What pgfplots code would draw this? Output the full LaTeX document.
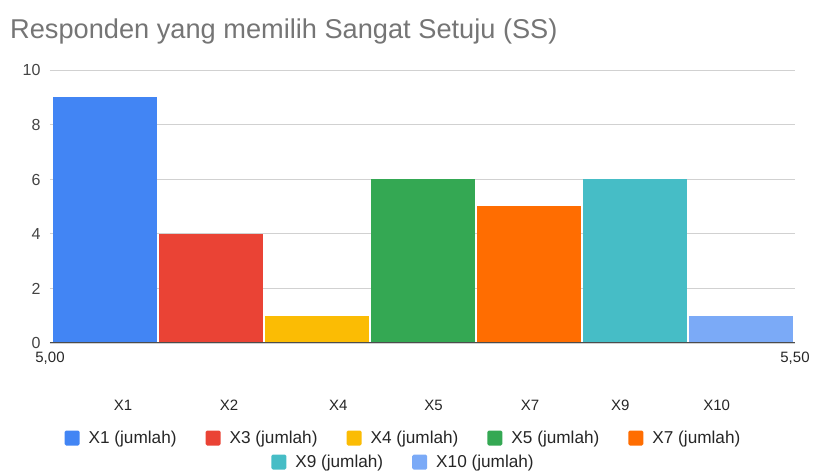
\documentclass[border=0pt]{standalone}
\usepackage{pgfplots}
\pgfplotsset{compat=1.18}
\usepackage{fontspec}
\setmainfont{Liberation Sans}
\definecolor{c1}{HTML}{4285F4}
\definecolor{c3}{HTML}{EA4335}
\definecolor{c4}{HTML}{FBBC04}
\definecolor{c5}{HTML}{34A853}
\definecolor{c7}{HTML}{FF6D01}
\definecolor{c9}{HTML}{46BDC6}
\definecolor{c10}{HTML}{7BAAF7}
\definecolor{titlegray}{HTML}{757575}
\definecolor{txt}{HTML}{444444}
\pgfplotsset{
  legsty/.style={
    legend image code/.code={\fill[##1, draw=none, rounded corners=1.5pt] (0pt,-7.5pt) rectangle (15pt,7.5pt);},
  },
}
\begin{document}
\begin{tikzpicture}[x=1pt,y=1pt]
\path[use as bounding box] (0,0) rectangle (814,476);
\node[anchor=base west, text=titlegray, font=\fontsize{27.2}{32}\selectfont, inner sep=0] at (10,437) {Responden yang memilih Sangat Setuju (SS)};
\begin{axis}[
  at={(50pt,133pt)}, anchor=south west, scale only axis,
  width=745pt, height=273pt,
  xmin=-0.519, xmax=6.509, ymin=0, ymax=10,
  ytick={0,2,4,6,8,10},
  ymajorgrids, grid style={draw=black!18, line width=0.8pt},
  axis x line*=bottom, axis y line*=left,
  x axis line style={draw=none}, y axis line style={draw=none},
  major tick length=0pt,
  /pgf/number format/assume math mode=true,
  tick label style={text=txt, font=\fontsize{15}{18}\selectfont, text height=11pt, text depth=3pt},
  y tick label style={font=\fontsize{16}{19}\selectfont, xshift=-6pt, yshift=-2pt},
  xtick={0.17,1.17,2.20,3.10,4.01,4.86,5.77},
  xticklabels={X1,X2,X4,X5,X7,X9,X10},
  x tick label style={yshift=-53pt, text=black!85},
  extra x ticks={-0.519,6.509},
  extra x tick labels={{5,00},{5,50}},
  extra x tick style={grid=none, tick label style={yshift=48pt, text=txt}},
  legsty,
  legend style={at={(0.4745,-0.348)}, anchor=center, draw=none, fill=none,
    legend columns=5, font=\fontsize{17.2}{20}\selectfont, text=black!85,
    /tikz/every even column/.append style={column sep=27pt},
    /tikz/every odd column/.append style={column sep=7pt}},
]
\addplot[ybar, bar width=0.975, bar shift=0pt, fill=c1, draw=none] coordinates {(0,9)};
\addlegendentry{X1 (jumlah)}
\addplot[ybar, bar width=0.975, bar shift=0pt, fill=c3, draw=none] coordinates {(1,4)};
\addlegendentry{X3 (jumlah)}
\addplot[ybar, bar width=0.975, bar shift=0pt, fill=c4, draw=none] coordinates {(2,1)};
\addlegendentry{X4 (jumlah)}
\addplot[ybar, bar width=0.975, bar shift=0pt, fill=c5, draw=none] coordinates {(3,6)};
\addlegendentry{X5 (jumlah)}
\addplot[ybar, bar width=0.975, bar shift=0pt, fill=c7, draw=none] coordinates {(4,5)};
\addlegendentry{X7 (jumlah)}
\addplot[ybar, bar width=0.975, bar shift=0pt, fill=c9, draw=none, forget plot] coordinates {(5,6)};
\addplot[ybar, bar width=0.975, bar shift=0pt, fill=c10, draw=none, forget plot] coordinates {(6,1)};
\draw[black!70, line width=1pt] (rel axis cs:0,0) -- (rel axis cs:1,0);
\end{axis}
\begin{axis}[
  at={(50pt,133pt)}, anchor=south west, scale only axis,
  width=745pt, height=273pt,
  xmin=0, xmax=1, ymin=0, ymax=1, hide axis,
  legsty,
  legend style={at={(0.4745,-0.436)}, anchor=center, draw=none, fill=none,
    legend columns=2, font=\fontsize{17.2}{20}\selectfont, text=black!85,
    /tikz/every even column/.append style={column sep=27pt},
    /tikz/every odd column/.append style={column sep=7pt}},
]
\addlegendimage{fill=c9}
\addlegendentry{X9 (jumlah)}
\addlegendimage{fill=c10}
\addlegendentry{X10 (jumlah)}
\end{axis}
\end{tikzpicture}
\end{document}
